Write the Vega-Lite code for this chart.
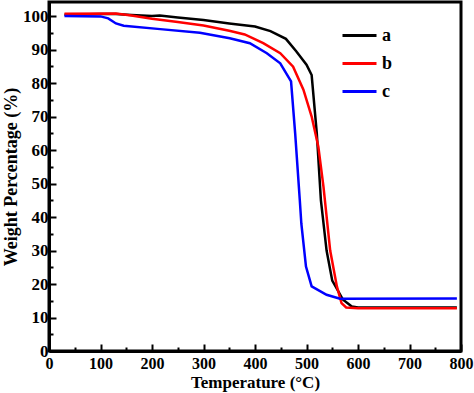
{
  "$schema": "https://vega.github.io/schema/vega-lite/v6.json",
  "width": 412,
  "height": 349,
  "autosize": {"type": "none"},
  "padding": {"left": 49, "top": 2, "right": 13, "bottom": 42},
  "background": "white",
  "config": {
    "view": {"stroke": "black", "strokeWidth": 3},
    "font": "Liberation Serif",
    "axis": {
      "domainColor": "black", "domainWidth": 3,
      "tickColor": "black", "tickWidth": 2,
      "labelFont": "Liberation Serif", "labelFontWeight": "bold", "labelFontSize": 17, "labelColor": "black",
      "titleFont": "Liberation Serif", "titleFontWeight": "bold", "titleFontSize": 18, "titleColor": "black",
      "grid": false
    },
    "legend": {
      "labelFont": "Liberation Serif", "labelFontWeight": "bold", "labelFontSize": 18, "labelColor": "black"
    }
  },
  "data": {
    "values": [
      {"s": "a", "t": 30, "w": 100.4}, {"s": "a", "t": 100, "w": 100.6}, {"s": "a", "t": 130, "w": 100.6},
      {"s": "a", "t": 160, "w": 100.3}, {"s": "a", "t": 200, "w": 100.0}, {"s": "a", "t": 215, "w": 100.2},
      {"s": "a", "t": 250, "w": 99.6}, {"s": "a", "t": 300, "w": 98.8}, {"s": "a", "t": 350, "w": 97.8},
      {"s": "a", "t": 400, "w": 96.9}, {"s": "a", "t": 430, "w": 95.5}, {"s": "a", "t": 460, "w": 93.2},
      {"s": "a", "t": 480, "w": 89.5}, {"s": "a", "t": 500, "w": 85.5}, {"s": "a", "t": 510, "w": 82.4},
      {"s": "a", "t": 520, "w": 65}, {"s": "a", "t": 528, "w": 45}, {"s": "a", "t": 539, "w": 30},
      {"s": "a", "t": 550, "w": 21}, {"s": "a", "t": 571, "w": 15.3}, {"s": "a", "t": 588, "w": 13.3},
      {"s": "a", "t": 600, "w": 13.0}, {"s": "a", "t": 700, "w": 13.0}, {"s": "a", "t": 792, "w": 13.0},
      {"s": "b", "t": 30, "w": 100.7}, {"s": "b", "t": 130, "w": 100.8}, {"s": "b", "t": 160, "w": 100.2},
      {"s": "b", "t": 200, "w": 99.2}, {"s": "b", "t": 250, "w": 98.2}, {"s": "b", "t": 300, "w": 97.2},
      {"s": "b", "t": 350, "w": 95.6}, {"s": "b", "t": 380, "w": 94.5}, {"s": "b", "t": 416, "w": 91.9},
      {"s": "b", "t": 449, "w": 88.9}, {"s": "b", "t": 474, "w": 84.9}, {"s": "b", "t": 494, "w": 78},
      {"s": "b", "t": 510, "w": 70}, {"s": "b", "t": 523, "w": 61}, {"s": "b", "t": 533, "w": 49},
      {"s": "b", "t": 546, "w": 30}, {"s": "b", "t": 559, "w": 19.3}, {"s": "b", "t": 568, "w": 14.3},
      {"s": "b", "t": 577, "w": 13.0}, {"s": "b", "t": 600, "w": 12.8}, {"s": "b", "t": 792, "w": 12.8},
      {"s": "c", "t": 30, "w": 100.0}, {"s": "c", "t": 100, "w": 99.9}, {"s": "c", "t": 115, "w": 99.3},
      {"s": "c", "t": 130, "w": 97.8}, {"s": "c", "t": 145, "w": 97.1}, {"s": "c", "t": 216, "w": 96.1},
      {"s": "c", "t": 293, "w": 95.0}, {"s": "c", "t": 351, "w": 93.4}, {"s": "c", "t": 390, "w": 91.9},
      {"s": "c", "t": 423, "w": 88.9}, {"s": "c", "t": 449, "w": 85.9}, {"s": "c", "t": 470, "w": 80.5},
      {"s": "c", "t": 478, "w": 65}, {"s": "c", "t": 487, "w": 45}, {"s": "c", "t": 490, "w": 38},
      {"s": "c", "t": 499, "w": 25.2}, {"s": "c", "t": 510, "w": 19.3}, {"s": "c", "t": 539, "w": 16.8},
      {"s": "c", "t": 565, "w": 15.6}, {"s": "c", "t": 792, "w": 15.7}
    ]
  },
  "mark": {"type": "line", "strokeWidth": 2.5, "clip": true},
  "encoding": {
    "x": {
      "field": "t", "type": "quantitative",
      "scale": {"domain": [0, 800], "nice": false, "zero": false},
      "axis": {
        "title": "Temperature (°C)",
        "titleFontSize": 17,
        "labelFontSize": 16,
        "values": [0, 50, 100, 150, 200, 250, 300, 350, 400, 450, 500, 550, 600, 650, 700, 750, 800],
        "labelExpr": "datum.value % 100 === 0 ? datum.label : ''",
        "tickSize": {"condition": {"test": "datum.value % 100 === 0", "value": -7}, "value": -4},
        "labelPadding": 11,
        "labelFlush": false,
        "labelOverlap": false,
        "titlePadding": 0
      }
    },
    "y": {
      "field": "w", "type": "quantitative",
      "scale": {"domain": [0, 104.2], "nice": false, "zero": false},
      "axis": {
        "title": "Weight Percentage (%)",
        "values": [0, 5, 10, 15, 20, 25, 30, 35, 40, 45, 50, 55, 60, 65, 70, 75, 80, 85, 90, 95, 100],
        "labelExpr": "datum.value % 10 === 0 ? datum.label : ''",
        "tickSize": {"condition": {"test": "datum.value % 10 === 0", "value": -7}, "value": -4},
        "labelPadding": 8,
        "labelFlush": false,
        "labelOverlap": false,
        "titlePadding": 2
      }
    },
    "color": {
      "field": "s", "type": "nominal",
      "scale": {"domain": ["a", "b", "c"], "range": ["#000000", "#ff0000", "#0000ff"]},
      "legend": {
        "title": null,
        "orient": "none",
        "legendX": 292,
        "legendY": 15,
        "padding": 0,
        "symbolType": "stroke",
        "symbolSize": 1156,
        "symbolStrokeWidth": 3,
        "rowPadding": -11,
        "labelOffset": 4
      }
    }
  }
}
